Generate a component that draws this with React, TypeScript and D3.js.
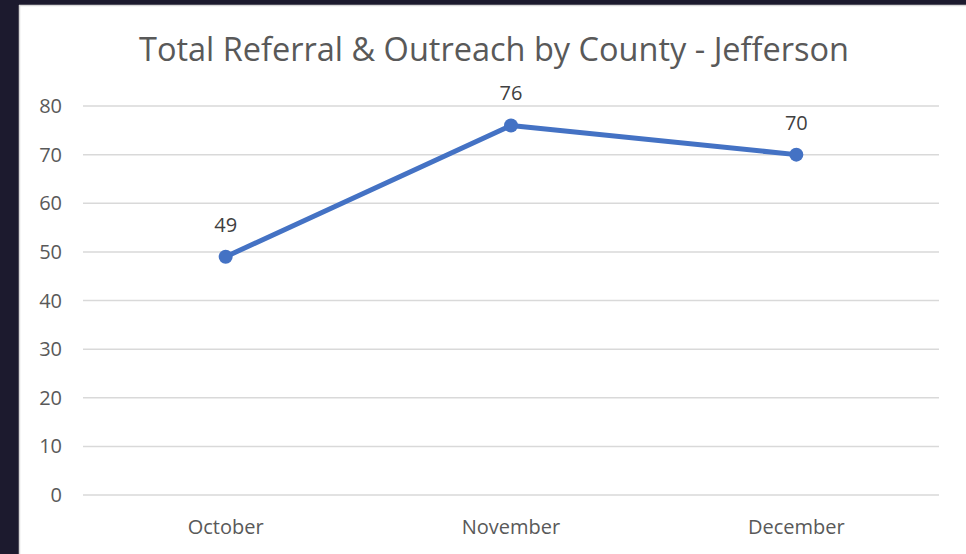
import React from "react";
import * as d3 from "d3";

const categories = ["October", "November", "December"];
const values = [49, 76, 70];
const yTicks = [0, 10, 20, 30, 40, 50, 60, 70, 80];
const title = "Total Referral & Outreach by County - Jefferson";

export default function App() {
  const W = 966, H = 554;
  const left = 83, right = 939, top = 106, bottom = 495;
  const x = d3.scaleBand<string>().domain(categories).range([left, right]);
  const y = d3.scaleLinear().domain([0, 80]).range([bottom, top]);
  const cx = (c: string) => (x(c) ?? 0) + x.bandwidth() / 2;
  const line = d3.line<number>().x((_, i) => cx(categories[i])).y((v) => y(v));
  const font = "'Open Sans', 'Noto Sans', sans-serif";
  return (
    <svg width={W} height={H} style={{ position: "absolute", left: 0, top: 0, display: "block" }}>
      <rect x={0} y={0} width={W} height={H} fill="#1c1a2e" />
      <rect x={19} y={5} width={W - 19} height={H - 5} fill="#ffffff" />
      <line x1={19.5} x2={19.5} y1={5} y2={H} stroke="#d9d9d9" strokeWidth={1.5} />
      <line x1={19} x2={W} y1={5.5} y2={5.5} stroke="#d9d9d9" strokeWidth={1.5} />
      <text x={494} y={61} textAnchor="middle" fontFamily={font} fontSize={32.5} fill="#595959">{title}</text>
      {yTicks.map((t) => (
        <g key={t}>
          <line x1={left} x2={right} y1={y(t)} y2={y(t)} stroke="#d9d9d9" strokeWidth={1.5} />
          <text x={62} y={y(t) + 7} textAnchor="end" fontFamily={font} fontSize={20} fill="#595959">{t}</text>
        </g>
      ))}
      {categories.map((c) => (
        <text key={c} x={cx(c)} y={534} textAnchor="middle" fontFamily={font} fontSize={20} fill="#595959">{c}</text>
      ))}
      <path d={line(values) ?? ""} fill="none" stroke="#4472c4" strokeWidth={5} strokeLinejoin="round" strokeLinecap="round" />
      {values.map((v, i) => (
        <g key={i}>
          <circle cx={cx(categories[i])} cy={y(v)} r={7} fill="#4472c4" />
          <text x={cx(categories[i])} y={y(v) - 25} textAnchor="middle" fontFamily={font} fontSize={20} fill="#404040">{v}</text>
        </g>
      ))}
    </svg>
  );
}
